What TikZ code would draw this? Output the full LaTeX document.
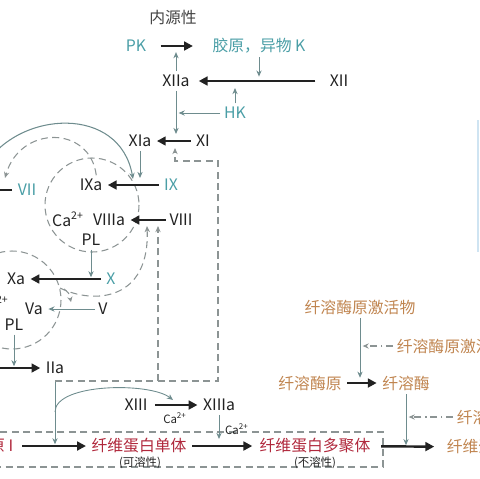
\documentclass[tikz,border=0pt]{standalone}
\usepackage{fontspec}
\setmainfont{Noto Sans CJK SC}
\usepackage{xcolor}
\usepackage{tikz}
\usetikzlibrary{arrows.meta}

\definecolor{tealtxt}{HTML}{4A9EA6}
\definecolor{redtxt}{HTML}{B0283C}
\definecolor{orgtxt}{HTML}{C08550}
\definecolor{linegrey}{HTML}{6E8C8E}
\definecolor{dashgrey}{HTML}{8C9494}
\definecolor{txtblack}{HTML}{222222}
\definecolor{edgeblue}{HTML}{CFE4F2}

\tikzset{
  lbl/.style={font=\fontsize{9}{10}\selectfont, text=txtblack, inner sep=2pt},
  tl/.style={lbl, text=tealtxt},
  rd/.style={lbl, text=redtxt},
  og/.style={lbl, text=orgtxt},
  small/.style={font=\fontsize{6.5}{7}\selectfont, text=txtblack, inner sep=1pt},
  thk/.style={line width=1.4pt, txtblack, -{Triangle[length=5pt,width=5pt]}, shorten >=1pt, shorten <=1pt},
  thn/.style={line width=0.5pt, linegrey, -{Stealth[length=3.5pt,width=3pt]}},
  dsh/.style={line width=0.6pt, dashgrey, dash pattern=on 4pt off 2.5pt},
  dshdot/.style={line width=0.6pt, dashgrey, dash pattern=on 4pt off 2pt on 1pt off 2pt, -{Stealth[length=3.5pt,width=3pt]}},
}

\begin{document}
\begin{tikzpicture}[x=0.02cm, y=-0.02cm]
		\useasboundingbox (0,0) rectangle (480,478);
		\clip (0,0) rectangle (480,478);

		% dashed circles and box
		\draw[dsh] (92,205) circle (47);
		\draw[dsh] (12,300) circle (49);
		\draw[dsh] (-5,432) rectangle (383,467);

		% intrinsic
		\node[lbl, text=txtblack!85] (endo) at (173,17) {内源性};
		\node[tl] (pk) at (136,46) {PK};
		\node[tl] (col) at (259,46) {胶原，异物 K};
		\node[lbl] (xiia) at (176,81) {XIIa};
		\node[lbl] (xii) at (339,81) {XII};
		\node[tl] (hk) at (235,113) {HK};
		\node[lbl] (xia) at (140,141) {XIa};
		\node[lbl] (xi) at (203,141) {XI};
		\node[lbl] (ixa) at (91,185) {IXa};
		\node[tl] (ix) at (171,185) {IX};
		\node[tl] (vii) at (27,190) {VII};
		\node[lbl] (ca1) at (68,219) {Ca\textsuperscript{2+}};
		\node[lbl] (viiia) at (109,220) {VIIIa};
		\node[lbl] (viii) at (181,220) {VIII};
		\node[lbl] (pl1) at (91,240) {PL};
		\node[lbl] (xa) at (16,279) {Xa};
		\node[tl] (x) at (111,279) {X};
		\node[lbl, anchor=east, inner sep=0pt] (ca2) at (9,303) {Ca\textsuperscript{2+}};
		\node[lbl] (va) at (34,309) {Va};
		\node[lbl] (v) at (103,309) {V};
		\node[lbl] (pl2) at (14,325) {PL};
		\node[lbl] (iia) at (55,368) {IIa};

		% fibrin
		\node[lbl] (xiii) at (136,405) {XIII};
		\node[lbl] (xiiia) at (219,405) {XIIIa};
		\node[small] (ca3) at (175,418) {Ca\textsuperscript{2+}};
		\node[small, anchor=west] (ca4) at (223,429) {Ca\textsuperscript{2+}};
		\node[rd, anchor=east] (fbg) at (17,446) {纤维蛋白原 I};
		\node[rd] (mono) at (139,446) {纤维蛋白单体};
		\node[small] (sol) at (140,463) {(可溶性)};
		\node[rd] (poly) at (315,446) {纤维蛋白多聚体};
		\node[small] (insol) at (315,463) {(不溶性)};
		\node[og, anchor=west] (fdp) at (443,447) {纤维蛋白降解产物};

		% fibrinolysis
		\node[og] (pa) at (360,307) {纤溶酶原激活物};
		\node[og, anchor=west] (pai) at (393,346) {纤溶酶原激活物抑制物};
		\node[og] (plg) at (310,383) {纤溶酶原};
		\node[og] (pln) at (406,383) {纤溶酶};
		\node[og, anchor=west] (ap) at (453,417) {纤溶酶抑制物};

		\coordinate (viioff) at (-12,190);
		\coordinate (iioff) at (-12,368);
		\coordinate (viiaoff) at (-15,165);
		\coordinate (iib) at (55,381);

		% main steps
		\draw[thk, shorten <=6pt, shorten >=9pt] (pk) -- (col);
		\draw[thk, shorten <=6pt, shorten >=3pt] (xii) -- (xiia);
		\draw[thk] (xi) -- (xia);
		\draw[thk] (ix) -- (ixa);
		\draw[thk] (vii) -- (viioff);
		\draw[thk, shorten <=0pt] (viii) -- (viiia);
		\draw[thk] (x) -- (xa);
		\draw[thk] (iioff) -- (iia);
		\draw[thk, shorten <=3pt] (fbg) -- (mono);
		\draw[thk, shorten >=2pt] (mono) -- (poly);
		\draw[thk, shorten <=4pt, shorten >=5pt] (poly) -- (fdp);
		\draw[thk, shorten <=2pt] (xiii) -- (xiiia);
		\draw[thk] (plg) -- (pln);

		% thin helpers
		\draw[thn, shorten >=3.5pt] (xiia.north) -- (xiia.north |- pk);
		\draw[thn, shorten >=2.5pt] (col.south) -- (col.south |- xii);
		\draw[thn, shorten >=1.5pt] (hk.west) -- (xiia |- hk);
		\draw[thn, shorten >=4pt] (hk.north) -- (hk.north |- xii);
		\draw[thn, shorten >=4pt] (xiia.south) -- (xiia.south |- xi);
		\draw[thn, shorten >=4pt] (xia.south) -- (xia.south |- ix);
		\draw[thn, shorten >=1pt] (pl1.south) -- (pl1.south |- x);
		\draw[thn, shorten >=1pt] (v) -- (va);
		\draw[thn, shorten >=1pt] (pl2.south) -- (pl2.south |- iia);
		\draw[thn, shorten >=1pt] (iib) -- (iib |- mono);
		\draw[thn] (55,412) .. controls (55,383) and (150,382) .. (173,400);
		\draw[thn, shorten >=4pt] (xiiia.south) -- (xiiia.south |- poly);
		\draw[thn, shorten >=3pt] (pa.south) -- (pa.south |- plg);
		\draw[thn, shorten >=0.5pt] (pln.south) -- (pln.south |- poly);
		\draw[dshdot, shorten >=1.5pt] (pai.west) -- (pa.south |- pai);
		\draw[dshdot, shorten >=1.5pt] (ap.west) -- (pln.south |- ap);

		% feedback arcs
		\draw[line width=0.6pt, linegrey, -{Stealth[length=3.5pt,width=3pt]}] (viiaoff) .. controls (20,110) and (120,105) .. (133,179);
		\draw[dsh, -{Stealth[length=3.5pt,width=3pt]}] ([xshift=3pt]ixa.north) .. controls (90,125) and (20,125) .. (5,178);
		\draw[dsh, -{Stealth[length=3.5pt,width=3pt]}] (60,288) .. controls (95,305) and (150,300) .. (147,226);
		\draw[dsh, -{Stealth[length=3pt,width=3pt]}] (64,289) .. controls (69,293) .. (71,302);
		\draw[dsh, -{Stealth[length=3.5pt,width=3pt]}] (iib) -| (218,161) -| (175,148);
		\draw[dsh, -{Stealth[length=3.5pt,width=3pt]}] (158,381) -- (158,226);

		% edge of source picture
		\draw[edgeblue, line width=1.5pt] (478,120) -- (478,252);
	\end{tikzpicture}
\end{document}
